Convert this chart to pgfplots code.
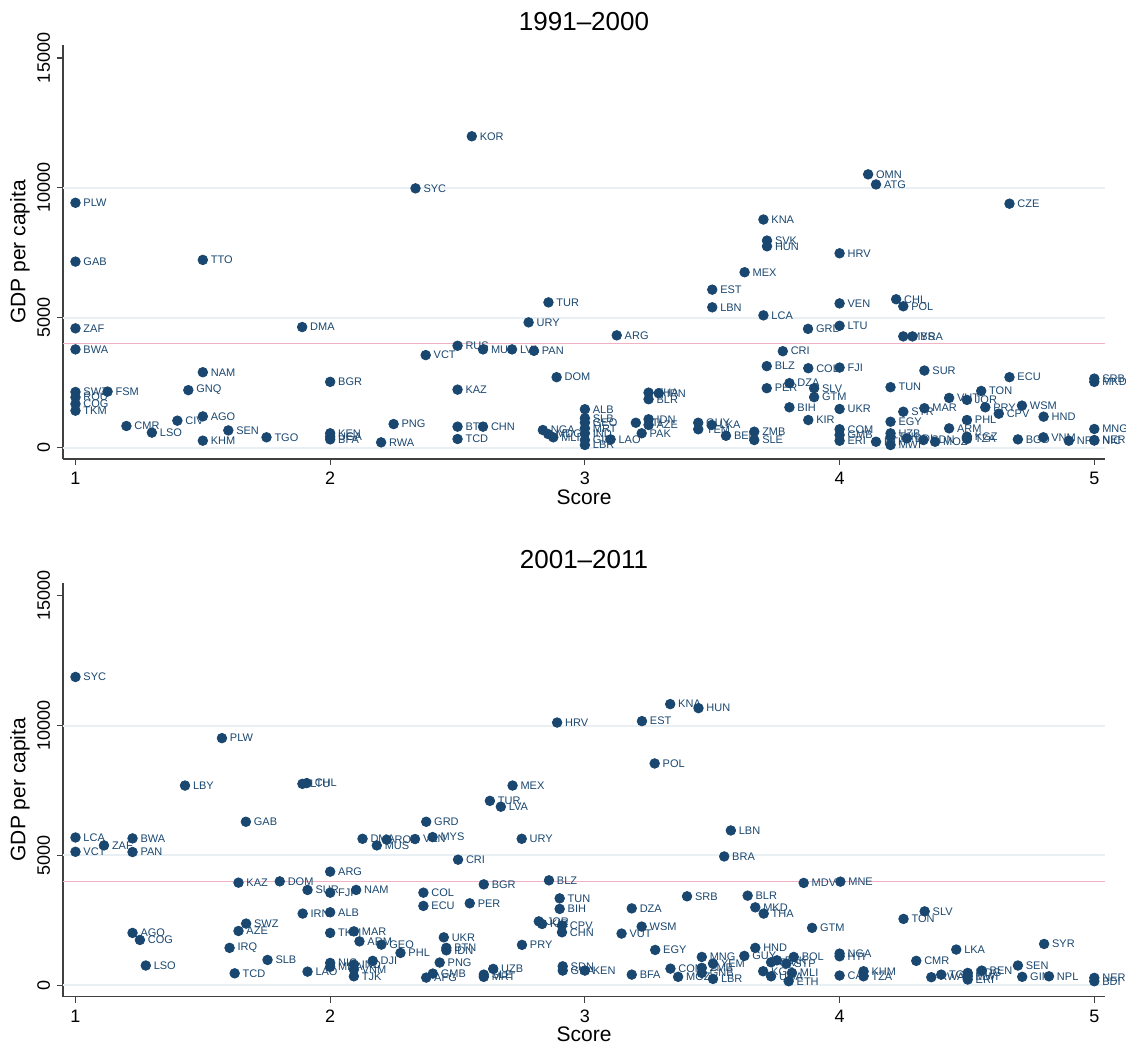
\documentclass[border=0pt]{standalone}
\usepackage{pgfplots}
\pgfplotsset{compat=1.18}
\usepackage{pgfplotstable}
\usepackage{fontspec}
\setmainfont{Liberation Sans}
\definecolor{navy}{RGB}{26,71,111}
\definecolor{gridc}{RGB}{232,240,244}
\definecolor{pinkl}{RGB}{240,178,195}

\pgfplotstableread{
x y lab
2.556 11985 KOR
2.335 9980 SYC
1 9425 PLW
1 7160 GAB
1.5 7225 TTO
2.857 5590 TUR
2.779 4820 URY
1.89 4640 DMA
1 4590 ZAF
4.112 10520 OMN
4.143 10130 ATG
4.667 9390 CZE
3.701 8780 KNA
3.715 7970 SVK
3.715 7750 HUN
4 7480 HRV
3.627 6750 MEX
3.5 6080 EST
3.5 5400 LBN
3.701 5090 LCA
4 5550 VEN
4.222 5710 CHL
4.25 5440 POL
3.125 4320 ARG
3.876 4570 GRD
4 4690 LTU
4.25 4280 MYS
4.286 4280 BRA
1 3780 BWA
1.5 2900 NAM
2 2530 BGR
2.375 3560 VCT
1 2140 SWZ
1 1940 ROU
1 1680 COG
1 1420 TKM
1.126 2155 FSM
1.443 2210 GNQ
1.2 830 CMR
1.3 575 LSO
1.4 1035 CIV
1.5 1200 AGO
1.5 265 KHM
1.6 660 SEN
1.75 395 TGO
2 550 KEN
2 420 UGA
2 315 BFA
2.249 905 PNG
2.2 200 RWA
2.5 3920 RUS
2.6 3780 MUS
2.714 3780 LVA
2.8 3725 PAN
2.889 2710 DOM
2.5 2230 KAZ
2.5 805 BTN
2.6 805 CHN
2.5 330 TCD
3 1475 ALB
3 1130 SLB
3 960 GEO
3 740 MRT
3 550 IND
3 290 GIN
3 100 LBR
2.835 675 NGA
2.856 520 MDG
2.876 395 MLI
3.101 315 LAO
3.2 955 HTI
3.223 550 PAK
3.25 2115 THA
3.29 2090 IRN
3.25 1860 BLR
3.25 1090 IDN
3.25 870 AZE
3.445 955 GUY
3.445 705 YEM
3.498 870 LKA
3.554 455 BEN
3.665 610 ZMB
3.665 290 SLE
3.777 3710 CRI
3.714 3135 BLZ
3.877 3055 COL
4 3080 FJI
4.333 2965 SUR
4.667 2710 ECU
5 2655 SRB
5 2530 MKD
3.714 2285 PER
3.803 2480 DZA
3.9 2285 SLV
3.9 1940 GTM
4.2 2325 TUN
4.556 2180 TON
4.43 1910 VUT
4.5 1835 JOR
4.572 1550 PRY
4.625 1305 CPV
4.716 1615 WSM
4.801 1190 HND
3.803 1550 BIH
4 1485 UKR
4.25 1380 SYR
4.333 1515 MAR
3.877 1060 KIR
4.2 995 EGY
4 705 COM
4 485 GMB
4 262 ERI
4.43 740 ARM
4.5 1060 PHL
4.5 420 KGZ
4.5 330 TZA
4.7 315 BGD
4.8 395 VNM
4.9 262 NPL
5 715 MNG
5 290 NER
5 270 NIC
4.143 224 ETH
4.2 548 UZB
4.2 417 TJK
4.2 97 MWI
4.264 355 BDI
4.329 290 SDN
4.375 224 MOZ
}\dataA

\pgfplotstableread{
x y lab
1 11870 SYC
2.891 10115 HRV
1.575 9515 PLW
1.43 7690 LBY
1.891 7755 LTU
1.908 7785 CHL
2.716 7690 MEX
2.627 7100 TUR
2.67 6875 LVA
1.669 6295 GAB
2.377 6295 GRD
1 5690 LCA
1 5140 VCT
1.112 5385 ZAF
1.224 5655 BWA
1.224 5130 PAN
2.127 5640 DMA
2.183 5385 MUS
2.222 5605 ROU
2.333 5630 VEN
2.402 5705 MYS
2.752 5640 URY
2.502 4835 CRI
2 4375 ARG
3.335 10825 KNA
3.446 10670 HUN
3.224 10170 EST
3.274 8540 POL
3.573 5960 LBN
3.547 4960 BRA
1.64 3950 KAZ
1.802 4000 DOM
1.911 3670 SUR
2 3565 FJI
2.102 3670 NAM
2.366 3565 COL
2.366 3055 ECU
1.892 2760 IRN
2 2810 ALB
1.67 2375 SWZ
1.64 2090 AZE
1.224 2015 AGO
1.253 1745 COG
2 2015 TKM
2.093 2075 MAR
2.115 1690 ARM
2.201 1565 GEO
2.276 1245 PHL
1.605 1440 IRQ
1.754 975 SLB
1.276 760 LSO
1.625 460 TCD
1.911 525 LAO
2 860 NIC
2 710 MDA
2.093 795 IND
2.093 605 VNM
2.093 345 TJK
2.167 940 DJI
2.43 875 PNG
2.403 450 GMB
2.377 295 AFG
2.446 1845 UKR
2.456 1440 BTN
2.456 1345 IDN
2.603 3885 BGR
2.859 4040 BLZ
2.548 3155 PER
2.901 3345 TUN
2.901 2940 BIH
2.819 2460 JOR
2.832 2360 KIR
2.91 2295 CPV
2.91 2040 CHN
3.184 2960 DZA
3.401 3425 SRB
3.639 3450 BLR
3.669 3000 MKD
3.702 2760 THA
3.223 2260 WSM
3.144 1990 VUT
2.753 1555 PRY
3.276 1360 EGY
2.913 730 SDN
2.913 565 GHA
3 565 KEN
2.64 630 UZB
2.603 410 SLE
2.603 323 MRT
3.184 410 BFA
3.336 640 COM
3.366 325 MOZ
3.459 1090 MNG
3.503 835 YEM
3.459 670 ZMB
3.459 475 GNB
3.503 245 LBR
3.626 1130 GUY
3.669 1440 HND
3.731 885 CIV
3.754 960 PAK
3.82 1090 BOL
3.791 835 STP
3.7 540 KGZ
3.731 345 UGA
3.813 475 MLI
3.8 155 ETH
3.859 3940 MDV
4.003 3990 MNE
4.334 2845 SLV
4.251 2555 TON
3.892 2210 GTM
4.803 1590 SYR
4.458 1375 LKA
4 1220 NGA
4 1115 HTI
4.301 940 CMR
4.7 760 SEN
4.558 565 BEN
4.094 540 KHM
4.094 345 TZA
4 375 CAF
4.36 310 RWA
4.399 410 TGO
4.503 475 MDG
4.503 345 MWI
4.503 220 ERI
4.717 325 GIN
4.822 345 NPL
5 285 NER
5 155 BDI
}\dataB

\pgfplotsset{panel/.style={
  scale only axis, width=521pt, height=207pt, anchor=south west,
  xmin=0.951, xmax=5.042, ymin=-440, ymax=15500,
  clip=false,
  axis x line*=bottom, axis y line*=left,
  x axis line style={-}, y axis line style={-},
  axis line style={black!75, line width=0.6pt},
  xtick={1,2,3,4,5}, ytick={0,5000,10000,15000},
  tick align=outside, major tick length=3pt,
  tick style={black!75, line width=0.6pt},
  scaled y ticks=false,
  /pgf/number format/assume math mode=true,
  yticklabel style={rotate=90, anchor=south, font=\fontsize{9}{10}\selectfont, /pgf/number format/1000 sep={}},
  xticklabel style={font=\fontsize{9}{10}\selectfont},
  xlabel={Score}, ylabel={GDP per capita},
  xlabel style={at={(axis description cs:0.5,-0.0918)}, anchor=center, font=\fontsize{10.5}{12}\selectfont},
  ylabel style={at={(axis description cs:-0.0413,0.5)}, anchor=center, font=\fontsize{10.5}{12}\selectfont},
  title style={at={(axis description cs:0.5,1.0338)}, anchor=base, yshift=-6pt, font=\fontsize{13}{15}\selectfont},
},
pts/.style={only marks, mark=*, mark size=2.4pt, mark options={fill=navy, draw=navy},
  nodes near coords, point meta=explicit symbolic,
  every node near coord/.style={anchor=west, xshift=3.8pt, inner sep=0pt, text=navy, font=\fontsize{5.5}{6}\selectfont}},
}

\begin{document}
\begin{tikzpicture}
\path[use as bounding box] (0,0) rectangle (563pt,522pt);
\begin{axis}[panel, at={(31.5pt,292.5pt)}, title={1991--2000}]
\draw[gridc, line width=1pt] (axis cs:0.951,0) -- (axis cs:5.042,0);
\draw[gridc, line width=1pt] (axis cs:0.951,5000) -- (axis cs:5.042,5000);
\draw[gridc, line width=1pt] (axis cs:0.951,10000) -- (axis cs:5.042,10000);
\draw[pinkl, line width=0.7pt] (axis cs:0.951,4000) -- (axis cs:5.042,4000);
\addplot[pts] table[x=x, y=y, meta=lab] {\dataA};
\end{axis}
\begin{axis}[panel, at={(31.5pt,23.65pt)}, title={2001--2011}]
\draw[gridc, line width=1pt] (axis cs:0.951,0) -- (axis cs:5.042,0);
\draw[gridc, line width=1pt] (axis cs:0.951,5000) -- (axis cs:5.042,5000);
\draw[gridc, line width=1pt] (axis cs:0.951,10000) -- (axis cs:5.042,10000);
\draw[pinkl, line width=0.7pt] (axis cs:0.951,4000) -- (axis cs:5.042,4000);
\addplot[pts] table[x=x, y=y, meta=lab] {\dataB};
\end{axis}
\end{tikzpicture}
\end{document}
